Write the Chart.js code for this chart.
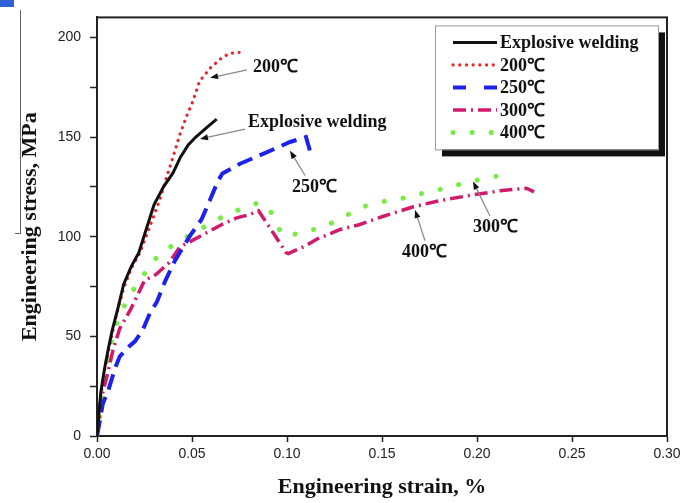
<!DOCTYPE html>
<html>
<head>
<meta charset="utf-8">
<title>Engineering stress-strain curves</title>
<script src="https://cdn.jsdelivr.net/npm/chart.js@4.4.1/dist/chart.umd.min.js"></script>
<style>
  body { margin: 0; background: #fff; }
  #wrap { position: relative; width: 685px; height: 503px; }
  .corner { position: absolute; left: 0; top: 0; width: 14px; height: 7px; background: #2f62d9; }
  .edge { position: absolute; left: 20px; top: 10px; width: 1px; height: 223px; background: #666; }
  .edge-foot { position: absolute; left: 15px; top: 233px; width: 6px; height: 1px; background: #666; }
</style>
</head>
<body>
<div id="wrap">
  <canvas id="stressChart" width="685" height="503"></canvas>
  <div class="corner"></div>
  <div class="edge"></div>
  <div class="edge-foot"></div>
</div>
<script>
// strain (%) / stress (MPa) per curve
const weldStrain = [0, 0.002, 0.004, 0.006, 0.008, 0.011, 0.014, 0.018, 0.022, 0.026, 0.030, 0.035, 0.040, 0.044, 0.048, 0.052, 0.058, 0.063];
const weldStress = [0, 22, 34, 44, 53, 64, 76, 85, 92, 104, 116, 125, 132, 140, 146, 150, 155, 159];

const t200Strain = [0, 0.002, 0.004, 0.007, 0.010, 0.014, 0.018, 0.0226, 0.028, 0.033, 0.0367, 0.040, 0.0437, 0.047, 0.0505, 0.054, 0.0595, 0.066, 0.070, 0.076];
const t200Stress = [0, 20, 33, 47, 60, 74, 84, 92, 105.5, 118.5, 130, 140, 151.5, 160, 168, 178, 184.5, 190, 192, 192.5];

const t250Strain = [0, 0.001, 0.003, 0.006, 0.0095, 0.012, 0.017, 0.020, 0.024, 0.028, 0.0314, 0.036, 0.041, 0.049, 0.055, 0.0595, 0.0637, 0.066, 0.0753, 0.0874, 0.1016, 0.110, 0.113];
const t250Stress = [0, 5, 16, 23, 34, 40, 45, 47.5, 53, 62, 67, 78, 88, 100.5, 108.6, 118.5, 128, 131.7, 136.6, 141.5, 147.5, 150, 140];

const t300Strain = [0, 0.001, 0.002, 0.005, 0.0084, 0.012, 0.0174, 0.022, 0.025, 0.031, 0.038, 0.0437, 0.050, 0.0577, 0.0655, 0.0735, 0.080, 0.085, 0.0927, 0.0995, 0.1007, 0.110, 0.1156, 0.128, 0.138, 0.150, 0.1665, 0.180, 0.198, 0.212, 0.226, 0.230];
const t300Stress = [0, 8, 18, 29, 43, 54, 63, 72, 78, 81, 87, 95, 98, 102, 106, 109.4, 111, 113, 102, 92, 91.5, 95.5, 98.7, 103.6, 106, 110, 115, 118, 121, 123, 124.3, 122.5];

const t400Strain = [0, 0.0016, 0.0025, 0.0032, 0.0058, 0.0084, 0.012, 0.0174, 0.024, 0.0288, 0.034, 0.0437, 0.054, 0.068, 0.077, 0.085, 0.091, 0.0945, 0.098, 0.106, 0.1156, 0.124, 0.130, 0.140, 0.1505, 0.161, 0.1716, 0.182, 0.1926, 0.203, 0.214];
const t400Stress = [0, 10, 19.5, 26, 39, 51, 61, 71, 80, 87, 92, 98, 103.6, 111, 114.4, 117, 113.5, 106, 100.5, 101.5, 104, 107, 110, 115, 117.6, 119.3, 121.8, 124, 126.7, 129, 131];

const seriesLabels = ['Explosive welding', '200℃', '250℃', '300℃', '400℃'];
const strainTicks = [0, 0.05, 0.10, 0.15, 0.20, 0.25, 0.30];
const stressTicks = [0, 25, 50, 75, 100, 125, 150, 175, 200];

const serif = '"Liberation Serif", "Times New Roman", serif';
const sans = '"Liberation Sans", Arial, sans-serif';

function curve(label, xs, ys, style) {
  return Object.assign({
    label: label,
    data: xs.map((x, i) => ({ x: x, y: ys[i] })),
    pointRadius: 0,
    tension: 0,
    fill: false
  }, style);
}

const datasets = [
  curve(seriesLabels[0], weldStrain, weldStress, { borderColor: '#111', borderWidth: 3 }),
  curve(seriesLabels[1], t200Strain, t200Stress, { borderColor: '#e5262d', borderWidth: 3.2, borderDash: [0.1, 6.6], borderCapStyle: 'round' }),
  curve(seriesLabels[2], t250Strain, t250Stress, { borderColor: '#1c22ee', borderWidth: 4, borderDash: [16, 8], legendDash: [13, 18] }),
  curve(seriesLabels[3], t300Strain, t300Stress, { borderColor: '#d01a6b', borderWidth: 3.5, borderDash: [13, 5, 2, 5] }),
  curve(seriesLabels[4], t400Strain, t400Stress, { borderColor: '#76ec44', borderWidth: 5, borderDash: [0.1, 19], borderCapStyle: 'round' })
];

// callouts with arrows, placed in data units
const notes = [
  { text: '200℃', at: [0.0821, 185], tail: [0.0789, 183.7], tip: [0.0595, 179.7] },
  { text: 'Explosive welding', at: [0.0795, 157.4], tail: [0.0779, 154], tip: [0.0542, 149] },
  { text: '250℃', at: [0.1026, 124.8], tail: [0.1095, 130.7], tip: [0.1016, 143.1] },
  { text: '400℃', at: [0.1605, 92.1], tail: [0.1726, 98], tip: [0.1674, 113.4] },
  { text: '300℃', at: [0.1979, 104.5], tail: [0.2068, 110.4], tip: [0.1979, 127.7] }
];

const framePlugin = {
  id: 'frame',
  beforeDatasetsDraw(chart) {
    const { ctx, chartArea: a } = chart;
    ctx.save();
    ctx.strokeStyle = '#222';
    ctx.lineWidth = 2;
    ctx.strokeRect(a.left, a.top, a.right - a.left, a.bottom - a.top);
    ctx.restore();
  }
};

const notesPlugin = {
  id: 'notes',
  afterDatasetsDraw(chart) {
    const { ctx } = chart;
    const xs = chart.scales.x, ys = chart.scales.y;
    ctx.save();
    ctx.font = 'bold 18px ' + serif;
    ctx.textBaseline = 'middle';
    ctx.textAlign = 'left';
    notes.forEach(n => {
      const tx = xs.getPixelForValue(n.tail[0]), ty = ys.getPixelForValue(n.tail[1]);
      const px = xs.getPixelForValue(n.tip[0]), py = ys.getPixelForValue(n.tip[1]);
      const ang = Math.atan2(py - ty, px - tx);
      ctx.strokeStyle = '#8a8a8a';
      ctx.lineWidth = 1.3;
      ctx.beginPath();
      ctx.moveTo(tx, ty);
      ctx.lineTo(px - 6 * Math.cos(ang), py - 6 * Math.sin(ang));
      ctx.stroke();
      // arrow head
      const L = 8, W = 3;
      const bx = px - L * Math.cos(ang), by = py - L * Math.sin(ang);
      ctx.fillStyle = '#111';
      ctx.beginPath();
      ctx.moveTo(px, py);
      ctx.lineTo(bx - W * Math.sin(ang), by + W * Math.cos(ang));
      ctx.lineTo(bx + W * Math.sin(ang), by - W * Math.cos(ang));
      ctx.closePath();
      ctx.fill();
      ctx.fillText(n.text, xs.getPixelForValue(n.at[0]), ys.getPixelForValue(n.at[1]));
    });
    ctx.restore();
  }
};

const legendPlugin = {
  id: 'boxLegend',
  afterDraw(chart) {
    const { ctx, chartArea: a } = chart;
    const x = a.right - 232, y = a.top + 8, w = 223, h = 124;
    ctx.save();
    ctx.fillStyle = '#111';
    ctx.fillRect(x + 7, y + 7, w, h);
    ctx.fillStyle = '#fff';
    ctx.fillRect(x, y, w, h);
    ctx.strokeStyle = '#999';
    ctx.lineWidth = 1;
    ctx.strokeRect(x + 0.5, y + 0.5, w, h);
    ctx.font = 'bold 18px ' + serif;
    ctx.textBaseline = 'middle';
    ctx.textAlign = 'left';
    chart.data.datasets.forEach((ds, i) => {
      const ry = y + 17 + i * 22.5;
      ctx.strokeStyle = ds.borderColor;
      ctx.lineWidth = ds.borderWidth;
      ctx.lineCap = ds.borderCapStyle || 'butt';
      ctx.setLineDash(ds.legendDash || ds.borderDash || []);
      ctx.beginPath();
      ctx.moveTo(x + 18, ry);
      ctx.lineTo(x + 62, ry);
      ctx.stroke();
      ctx.setLineDash([]);
      ctx.fillStyle = '#111';
      ctx.fillText(ds.label, x + 65, ry + 1);
    });
    ctx.restore();
  }
};

new Chart(document.getElementById('stressChart'), {
  type: 'line',
  data: { datasets: datasets },
  plugins: [framePlugin, notesPlugin, legendPlugin],
  options: {
    responsive: false,
    animation: false,
    layout: { padding: { top: 11, right: 18, left: 0, bottom: 0 } },
    plugins: { legend: { display: false }, tooltip: { enabled: false } },
    scales: {
      x: {
        type: 'linear',
        min: 0,
        max: 0.30,
        afterFit: s => { s.height = 67; },
        afterBuildTicks: s => { s.ticks = strainTicks.map(v => ({ value: v })); },
        ticks: {
          callback: v => v.toFixed(2),
          font: { family: sans, size: 14 },
          color: '#222',
          padding: 4,
          maxRotation: 0,
          autoSkip: false
        },
        grid: { drawOnChartArea: false, tickLength: 6, tickColor: '#222', tickWidth: 1.5 },
        border: { color: '#222', width: 2 },
        title: {
          display: true,
          text: 'Engineering strain, %',
          font: { family: serif, size: 22, weight: 'bold' },
          color: '#111',
          padding: { bottom: 2 }
        }
      },
      y: {
        min: 0,
        max: 210,
        afterFit: s => { s.width = 97; },
        afterBuildTicks: s => { s.ticks = stressTicks.map(v => ({ value: v })); },
        ticks: {
          callback: v => (v % 50 === 0 ? v : ''),
          font: { family: sans, size: 14 },
          color: '#222',
          padding: 9,
          autoSkip: false
        },
        grid: { drawOnChartArea: false, tickLength: 7, tickColor: '#222', tickWidth: 1.5 },
        border: { color: '#222', width: 2 },
        title: {
          display: true,
          text: 'Engineering stress, MPa',
          font: { family: serif, size: 22, weight: 'bold' },
          color: '#111',
          padding: { top: 17 }
        }
      }
    }
  }
});
</script>
</body>
</html>
